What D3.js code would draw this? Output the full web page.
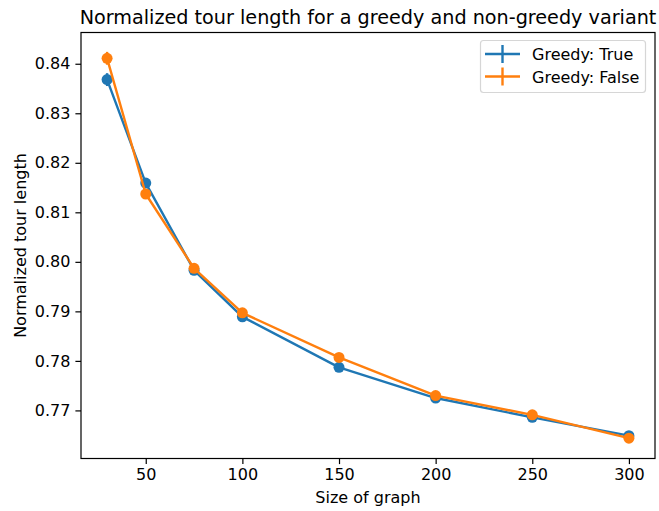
<!DOCTYPE html>
<html>
<head>
<meta charset="utf-8">
<script src="https://cdn.jsdelivr.net/npm/d3@7"></script>
<style>
  html, body { margin: 0; padding: 0; background: #fff; }
  svg { display: block; font-family: "DejaVu Sans", sans-serif; }
</style>
</head>
<body>
<svg id="chart" width="659" height="511"></svg>
<script>
// Graph sizes on the x axis
const sizes = [30, 50, 75, 100, 150, 200, 250, 300];

// Mean normalized tour length and its error, per variant
const greedyTrue = [0.8368, 0.8159, 0.7983, 0.7889, 0.7787, 0.7725, 0.7686, 0.7649];
const greedyTrueErr = [0.0013, 0.0005, 0.0004, 0.0003, 0.0003, 0.0003, 0.0003, 0.0002];
const greedyFalse = [0.8411, 0.8137, 0.7987, 0.7897, 0.7807, 0.7730, 0.7691, 0.7644];
const greedyFalseErr = [0.0013, 0.0005, 0.0004, 0.0003, 0.0003, 0.0003, 0.0003, 0.0002];

const xTicks = [50, 100, 150, 200, 250, 300];
const yTicks = [0.77, 0.78, 0.79, 0.80, 0.81, 0.82, 0.83, 0.84];

const seriesNames = ["Greedy: True", "Greedy: False"];
const colors = ["#1f77b4", "#ff7f0e"];

const series = [
  { name: seriesNames[0], color: colors[0], values: greedyTrue, err: greedyTrueErr },
  { name: seriesNames[1], color: colors[1], values: greedyFalse, err: greedyFalseErr }
];

const svg = d3.select("#chart");
const plot = { left: 81, right: 655, top: 32.5, bottom: 458.5 };

// Axis limits padded by 5% of the data span
const xMin = d3.min(sizes), xMax = d3.max(sizes);
const xPad = (xMax - xMin) * 0.05;
const x = d3.scaleLinear().domain([xMin - xPad, xMax + xPad]).range([plot.left, plot.right]);

const lo = d3.min(series, s => d3.min(s.values, (v, i) => v - s.err[i]));
const hi = d3.max(series, s => d3.max(s.values, (v, i) => v + s.err[i]));
const yPad = (hi - lo) * 0.05;
const y = d3.scaleLinear().domain([lo - yPad, hi + yPad]).range([plot.bottom, plot.top]);

const fontSize = 16;
const lineW = 2.4;

// Axes
const xAxis = d3.axisBottom(x).tickValues(xTicks).tickSize(5.6).tickPadding(5).tickFormat(d3.format("d"));
const yAxis = d3.axisLeft(y).tickValues(yTicks).tickSize(5.6).tickPadding(5).tickFormat(d3.format(".2f"));

const gx = svg.append("g").attr("transform", `translate(0,${plot.bottom})`).call(xAxis);
const gy = svg.append("g").attr("transform", `translate(${plot.left},0)`).call(yAxis);
[gx, gy].forEach(g => {
  g.select(".domain").remove();
  g.selectAll("line").attr("stroke", "#000").attr("stroke-width", 1.2);
  g.selectAll("text").attr("fill", "#000").attr("font-size", fontSize)
    .attr("font-family", "DejaVu Sans, sans-serif");
});

// Series: error bars, lines, markers
const line = d3.line().x((d, i) => x(sizes[i])).y(d => d);
series.forEach(s => {
  const g = svg.append("g");
  g.selectAll("line.err").data(s.values).join("line")
    .attr("class", "err")
    .attr("x1", (v, i) => x(sizes[i])).attr("x2", (v, i) => x(sizes[i]))
    .attr("y1", (v, i) => y(v - s.err[i])).attr("y2", (v, i) => y(v + s.err[i]))
    .attr("stroke", s.color).attr("stroke-width", lineW);
  g.append("path")
    .datum(s.values.map(v => y(v)))
    .attr("d", line)
    .attr("fill", "none").attr("stroke", s.color).attr("stroke-width", lineW)
    .attr("stroke-linejoin", "round");
  g.selectAll("circle").data(s.values).join("circle")
    .attr("cx", (v, i) => x(sizes[i])).attr("cy", v => y(v))
    .attr("r", 5.5).attr("fill", s.color);
});

// Frame
svg.append("rect")
  .attr("x", plot.left).attr("y", plot.top)
  .attr("width", plot.right - plot.left).attr("height", plot.bottom - plot.top)
  .attr("fill", "none").attr("stroke", "#000").attr("stroke-width", 1.2);

// Titles
svg.append("text")
  .attr("x", (plot.left + plot.right) / 2).attr("y", 24)
  .attr("text-anchor", "middle").attr("font-size", 19.2).attr("fill", "#000")
  .text("Normalized tour length for a greedy and non-greedy variant");
svg.append("text")
  .attr("x", (plot.left + plot.right) / 2).attr("y", 503)
  .attr("text-anchor", "middle").attr("font-size", fontSize).attr("fill", "#000")
  .text("Size of graph");
svg.append("text")
  .attr("transform", `translate(26,${(plot.top + plot.bottom) / 2}) rotate(-90)`)
  .attr("text-anchor", "middle").attr("font-size", fontSize).attr("fill", "#000")
  .text("Normalized tour length");

// Legend
const legend = svg.append("g");
legend.append("rect")
  .attr("x", 480.5).attr("y", 40.5).attr("width", 165).attr("height", 52)
  .attr("rx", 3).attr("fill", "#fff").attr("fill-opacity", 0.8)
  .attr("stroke", "#d6d6d6").attr("stroke-width", 1.2);
series.forEach((s, i) => {
  const cy = 54 + i * 22.5;
  legend.append("line").attr("x1", 485).attr("x2", 520).attr("y1", cy).attr("y2", cy)
    .attr("stroke", s.color).attr("stroke-width", lineW);
  legend.append("line").attr("x1", 502.5).attr("x2", 502.5).attr("y1", cy - 9).attr("y2", cy + 9)
    .attr("stroke", s.color).attr("stroke-width", lineW);
  legend.append("text").attr("x", 532).attr("y", cy + 6)
    .attr("font-size", fontSize).attr("fill", "#000").text(s.name);
});
</script>
</body>
</html>
